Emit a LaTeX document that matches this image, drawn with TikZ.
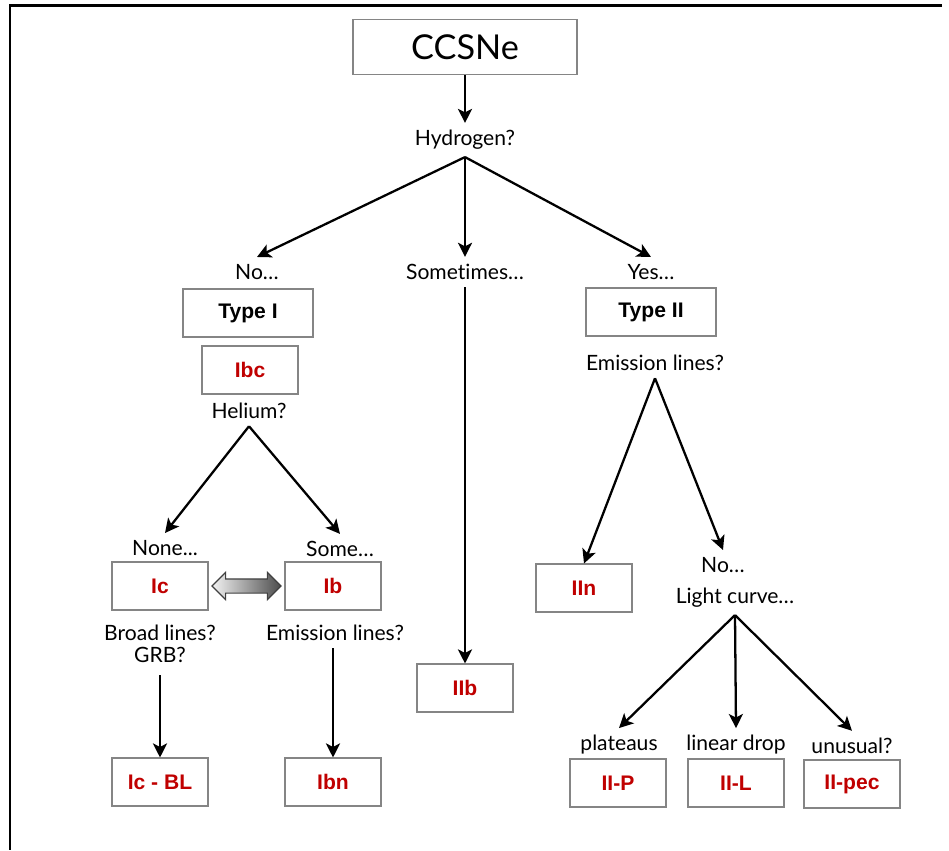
\documentclass[tikz,border=0pt]{standalone}
\usepackage{fontspec}
\setmainfont{Lato}[Ligatures=NoCommon]
\newfontfamily\typefont{Liberation Sans}
\usepackage{tikz}
\usetikzlibrary{arrows.meta,calc,positioning,shapes.arrows}
\definecolor{snred}{HTML}{C00000}
\definecolor{boxgray}{HTML}{858585}
\tikzset{
  frameline/.style={black, line width=1.7pt},
  flow/.style={black, -{Stealth[length=8pt,width=8pt,inset=2pt]}, line width=1.3pt},
  question/.style={font=\fontsize{12}{12.5}\selectfont, text=black, inner sep=4pt, align=center},
  typebox/.style={draw=boxgray, line width=0.9pt, fill=white, minimum width=2.6cm, minimum height=0.95cm, inner sep=2pt, font=\typefont\bfseries\fontsize{12}{14}\selectfont},
  classbox/.style={typebox, minimum width=1.92cm, text=snred},
  swaparrow/.style={shape=double arrow, draw=black!75, line width=0.7pt, left color=black!5, right color=black!70, minimum height=1.38cm, inner xsep=0pt, inner ysep=0.13cm, double arrow head extend=0.13cm}
}

\begin{document}
\begin{tikzpicture}[x=0.02cm, y=-0.02cm]
  \useasboundingbox (0,0) rectangle (949,850);
  \draw[frameline] (942,5) -- (10,5) -- (10,850);

  % top of the tree
  \node[draw=boxgray, line width=0.9pt, minimum width=4.48cm, minimum height=1.1cm, font=\fontsize{19.5}{21}\selectfont] (ccsne) at (465,47) {CCSNe};
  \node[question] (hydrogen) at (465,140) {Hydrogen?};
  \node[question] (noh) at (257,272) {No…};
  \node[question] (sometimes) at (465,272) {Sometimes…};
  \node[question] (yesh) at (651,272) {Yes…};
  \draw[flow] (ccsne) -- (hydrogen);
  \draw[flow] (hydrogen.south) -- (noh.north);
  \draw[flow] (hydrogen.south) -- (sometimes.north);
  \draw[flow] (hydrogen.south) -- (yesh.north);

  % type I branch
  \node[typebox] (typeI) at (248,313) {Type I};
  \node[classbox] (ibc) at (250,370) {Ibc};
  \node[question] (helium) at (249,411) {Helium?};
  \node[question] (none) at (165,548) {None...};
  \node[question] (some) at (340,549) {Some…};
  \draw[flow] (helium.south) -- (none.north);
  \draw[flow] (helium.south) -- (some.north);
  \node[classbox] (ic) at (160,586) {Ic};
  \node[classbox] (ib) at (333,586) {Ib};
  \node[swaparrow] (swap) at ($(ic.east)!0.5!(ib.west)$) {};
  \node[question] (broad) at (160,644) {Broad lines?\\GRB?};
  \node[question] (emib) at (335,633) {Emission lines?};
  \node[classbox] (icbl) at (160,782) {Ic - BL};
  \node[classbox] (ibn) at (333,782) {Ibn};
  \draw[flow, shorten <=3pt] (broad.south) -- (icbl.north);
  \draw[flow] (emib.south -| ibn.north) -- (ibn.north);

  % sometimes
  \node[classbox] (iib) at (465,688) {IIb};
  \draw[flow] (sometimes.south) -- (iib.north);

  % type II branch
  \node[typebox] (typeII) at (651,312) {Type II};
  \node[question] (emiss) at (655,363) {Emission lines?};
  \node[classbox] (iin) at (584,588) {IIn};
  \node[question] (noem) at (723,565) {No…};
  \node[question] (lightcurve) at (735,598) {Light curve…};
  \draw[flow] (emiss.south) -- (iin.north);
  \draw[flow] (emiss.south) -- (noem.north);
  \node[question] (plateaus) at (619,745) {plateaus};
  \node[question] (lineardrop) at (736,745) {linear drop};
  \node[question] (unusual) at (852,746) {unusual?};
  \draw[flow] (lightcurve.south) -- (plateaus.north);
  \draw[flow] (lightcurve.south) -- (lineardrop.north);
  \draw[flow] (lightcurve.south) -- (unusual.north);
  \node[classbox] (iip) at (618,783) {II-P};
  \node[classbox] (iil) at (736,783) {II-L};
  \node[classbox] (iipec) at (852,784) {II-pec};
\end{tikzpicture}
\end{document}
